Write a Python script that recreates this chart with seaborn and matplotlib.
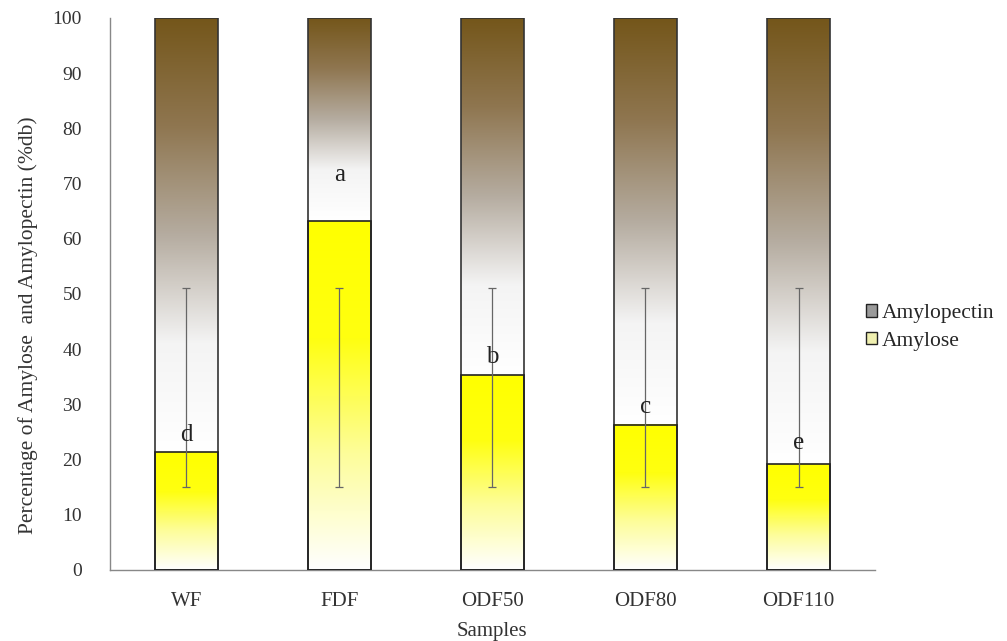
import numpy as np
import pandas as pd
import matplotlib
matplotlib.use("Agg")
import matplotlib.pyplot as plt
import seaborn as sns
from matplotlib.colors import LinearSegmentedColormap
from matplotlib.patches import Patch

SAMPLES = ["WF", "FDF", "ODF50", "ODF80", "ODF110"]
AMYLOSE = [21.3, 63.2, 35.3, 26.3, 19.1]
TOTAL = [100, 100, 100, 100, 100]
ERR_LOW = [15, 15, 15, 15, 15]
ERR_HIGH = [51, 51, 51, 51, 51]
LETTERS = ["d", "a", "b", "c", "e"]
LETTER_Y = [24.5, 71.5, 38.5, 29.5, 23]

df = pd.DataFrame({"sample": SAMPLES, "amylose": AMYLOSE, "total": TOTAL})

sns.set_theme(style="white")
plt.rcParams["font.family"] = ["Liberation Serif", "DejaVu Serif"]

fig = plt.figure(figsize=(10.07, 6.41), dpi=100)
ax = fig.add_axes([0.109, 0.111, 0.760, 0.861])

sns.barplot(data=df, x="sample", y="total", order=SAMPLES, color="white",
            width=0.41, edgecolor="#333333", linewidth=1.2, ax=ax)
sns.barplot(data=df, x="sample", y="amylose", order=SAMPLES, color="white",
            width=0.41, edgecolor="#222222", linewidth=1.2, ax=ax)

brown = LinearSegmentedColormap.from_list(
    "brown", ["#ffffff", "#f4f4f4", "#b5aca0", "#8f7650", "#74561a"])
yellow = LinearSegmentedColormap.from_list(
    "yel", ["#ffffff", "#fdfd9a", "#ffff10", "#ffff00"])

# gradient fills drawn inside each bar segment
grad = np.linspace(0, 1, 256).reshape(-1, 1)
n = len(SAMPLES)
tops = ax.patches[:n]
bots = ax.patches[n:]
for top, bot in zip(tops, bots):
    x0 = top.get_x()
    w = top.get_width()
    h = bot.get_height()
    ax.imshow(grad, cmap=brown, aspect="auto", origin="lower",
              extent=(x0, x0 + w, h, 100), zorder=top.get_zorder() + 0.1)
    ax.imshow(grad, cmap=yellow, aspect="auto", origin="lower",
              extent=(x0, x0 + w, 0, h), zorder=top.get_zorder() + 0.1)
for p in ax.patches:
    p.set_facecolor("none")
    p.set_zorder(5)

centers = [p.get_x() + p.get_width() / 2 for p in tops]
mid = [(lo + hi) / 2 for lo, hi in zip(ERR_LOW, ERR_HIGH)]
half = [(hi - lo) / 2 for lo, hi in zip(ERR_LOW, ERR_HIGH)]
ax.errorbar(centers, mid, yerr=half, fmt="none", ecolor="#666666",
            elinewidth=0.9, capsize=3, capthick=0.9, zorder=6)

for c, letter, ly in zip(centers, LETTERS, LETTER_Y):
    ax.text(c, ly, letter, ha="center", va="center", fontsize=18,
            color="#222222", zorder=7)

ax.set_ylim(0, 100)
ax.set_xlim(-0.5, n - 0.5)
ax.set_yticks(range(0, 101, 10))
ax.tick_params(axis="y", length=0, pad=20, labelsize=14, colors="#333333")
ax.tick_params(axis="x", length=0, pad=16, labelsize=15, colors="#333333")
ax.set_xlabel("Samples", fontsize=15, color="#333333", labelpad=8)
ax.set_ylabel("Percentage of Amylose  and Amylopectin (%db)", fontsize=15.5,
              color="#333333")
ax.yaxis.set_label_coords(-0.094, 0.444)
sns.despine(ax=ax)
for s in ["left", "bottom"]:
    ax.spines[s].set_color("#888888")
    ax.spines[s].set_linewidth(1.0)

handles = [Patch(facecolor="#9a9a9a", edgecolor="#222222", label="Amylopectin"),
           Patch(facecolor="#f0f0b0", edgecolor="#222222", label="Amylose")]
fig.legend(handles=handles, loc="center left", bbox_to_anchor=(0.841, 0.489),
           frameon=False, fontsize=15.5, handlelength=0.5, handleheight=0.5,
           handletextpad=0.2, labelspacing=0.4)

fig.savefig("out.png", dpi=100)
